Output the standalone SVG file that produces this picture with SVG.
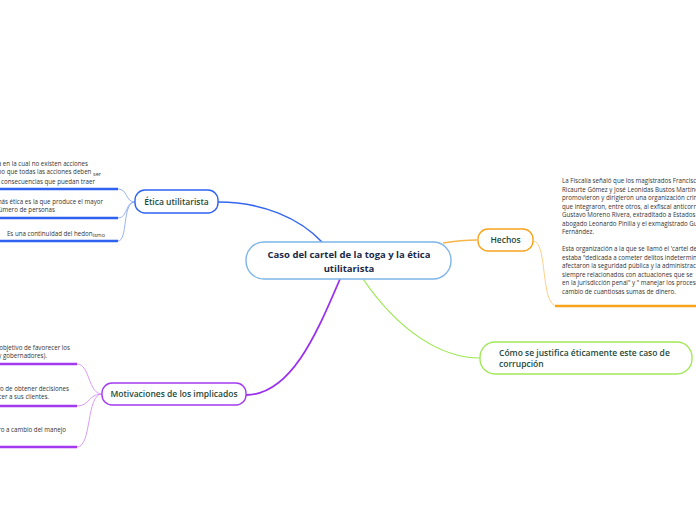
<svg xmlns="http://www.w3.org/2000/svg" width="696" height="520" viewBox="0 0 696 520">
<style>
.lbl{font-family:"Open Sans","Noto Sans",sans-serif;font-size:8.5px;fill:#1d4a3c;text-anchor:middle;font-weight:600}
.ctr{font-family:"Open Sans","Noto Sans",sans-serif;font-size:9.5px;fill:#1b2a48;text-anchor:middle;font-weight:700}
.sm{font-family:"Open Sans","Noto Sans",sans-serif;font-size:6.2px;fill:#333}
.r{text-anchor:end}
.sub{font-size:5.5px}
.con{fill:none}
</style>
<rect width="696" height="520" fill="#fff"/>
<g id="connectors" class="con">
<path d="M218,202 C262,202 300,218 323,243" stroke="#3366f0" stroke-width="1.6"/>
<path d="M443,243 C455,241 465,240 477,240" stroke="#f7b54a" stroke-width="1.4"/>
<path d="M340,279 C318,330 292,395 246,395" stroke="#9b30ee" stroke-width="1.8"/>
<path d="M363,279 C398,330 440,358 480,358" stroke="#98e84a" stroke-width="1.2"/>
<path d="M135,202 C125,202 128,189 118,189" stroke="#8faaf6" stroke-width="0.9"/>
<path d="M135,202 C125,202 128,218 118,218" stroke="#8faaf6" stroke-width="0.9"/>
<path d="M135,202 C122,202 128,241 118,241" stroke="#8faaf6" stroke-width="0.9"/>
<path d="M0,189 H118 M0,218 H118 M0,241 H118" stroke="#2f62f0" stroke-width="2.4"/>
<path d="M533,241 C548,241 540,306 557,306" stroke="#fdd08a" stroke-width="1"/>
<path d="M555,306 H696" stroke="#f7a31c" stroke-width="2.4"/>
<path d="M102,394 C88,394 90,364 77,364" stroke="#d491f7" stroke-width="0.9"/>
<path d="M102,394 C88,394 90,406 77,406" stroke="#d491f7" stroke-width="0.9"/>
<path d="M102,394 C86,394 92,447 77,447" stroke="#d491f7" stroke-width="0.9"/>
<path d="M0,364 H77 M0,406 H77 M0,447 H77" stroke="#a43af0" stroke-width="2.4"/>
</g>
<g id="central">
<rect x="246" y="242" width="205" height="37" rx="18" fill="#fff" stroke="#7db5e6" stroke-width="1.4"/>
<text class="ctr" x="349" y="258">Caso del cartel de la toga y la ética</text>
<text class="ctr" x="349" y="272">utilitarista</text>
</g>
<g id="etica">
<rect x="135" y="190" width="83" height="23" rx="10" fill="#fff" stroke="#2f62f0" stroke-width="1.4"/>
<text class="lbl" x="176.5" y="205">Ética utilitarista</text>
</g>
<g id="etica-1">
<text class="sm r" x="88" y="166">Es una ética en la cual no existen acciones</text>
<text class="sm r" x="101" y="174">buenas o malas, sino que todas las acciones deben <tspan class="sub" dy="1.5">ser</tspan></text>
<text class="sm r" x="95" y="184">juzgadas por las consecuencias que puedan traer</text>
</g>
<g id="etica-2">
<text class="sm r" x="103" y="204">La acción más ética es la que produce el mayor</text>
<text class="sm r" x="55" y="212">bien al mayor número de personas</text>
</g>
<g id="etica-3">
<text class="sm r" x="105" y="236">Es una continuidad del hedon<tspan class="sub" dy="1">ismo</tspan></text>
</g>
<g id="hechos">
<rect x="478" y="229" width="55" height="22" rx="10" fill="#fff" stroke="#f7a31c" stroke-width="1.4"/>
<text class="lbl" x="505.5" y="243">Hechos</text>
</g>
<g id="hechos-1">
<text class="sm" x="562" y="183">La Fiscalía señaló que los magistrados Francisco Javier</text>
<text class="sm" x="562" y="191.5">Ricaurte Gómez y José Leonidas Bustos Martínez</text>
<text class="sm" x="562" y="200">promovieron y dirigieron una organización criminal</text>
<text class="sm" x="562" y="208.5">que integraron, entre otros, al exfiscal anticorrupción</text>
<text class="sm" x="562" y="217">Gustavo Moreno Rivera, extraditado a Estados Unidos,</text>
<text class="sm" x="562" y="225.5">abogado Leonardo Pinilla y el exmagistrado Gustavo</text>
<text class="sm" x="562" y="234">Fernández.</text>
<text class="sm" x="562" y="251">Esta organización a la que se llamó el 'cartel de la toga'</text>
<text class="sm" x="562" y="259.5">estaba "dedicada a cometer delitos indeterminados que</text>
<text class="sm" x="562" y="268">afectaron la seguridad pública y la administración</text>
<text class="sm" x="562" y="276.5">siempre relacionados con actuaciones que se</text>
<text class="sm" x="562" y="285">en la jurisdicción penal" y " manejar los procesos a</text>
<text class="sm" x="562" y="293.5">cambio de cuantiosas sumas de dinero.</text>
</g>
<g id="justifica">
<rect x="480" y="342" width="212" height="32" rx="15" fill="#fff" stroke="#a3e85a" stroke-width="1.4"/>
<text class="lbl" x="499" y="356" style="text-anchor:start">Cómo se justifica éticamente este caso de</text>
<text class="lbl" x="499" y="367" style="text-anchor:start">corrupción</text>
</g>
<g id="motivaciones">
<rect x="102" y="383" width="144" height="22" rx="10" fill="#fff" stroke="#a43af0" stroke-width="1.4"/>
<text class="lbl" x="174" y="397">Motivaciones de los implicados</text>
</g>
<g id="mot-1">
<text class="sm r" x="70" y="350">Los magistrados tenían el objetivo de favorecer los</text>
<text class="sm r" x="47" y="358">aforados (congresistas y gobernadores).</text>
</g>
<g id="mot-2">
<text class="sm r" x="69" y="391">Los abogados tenían el objetivo de obtener decisiones</text>
<text class="sm r" x="49" y="399">judiciales que favorecer a sus clientes.</text>
</g>
<g id="mot-3">
<text class="sm r" x="66" y="432">Recibían dinero a cambio del manejo</text>
</g>
</svg>
